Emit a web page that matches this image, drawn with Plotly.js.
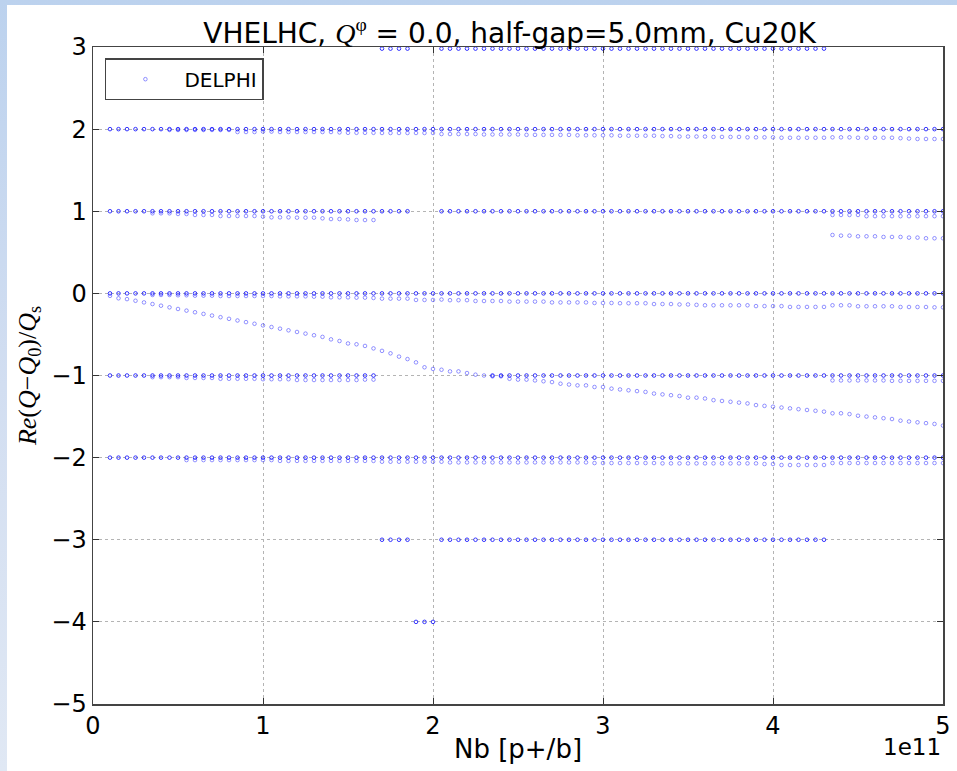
<!DOCTYPE html>
<html>
<head>
<meta charset="utf-8">
<script src="https://cdn.plot.ly/plotly-3.0.1.min.js"></script>
<style>
  html, body { margin: 0; padding: 0; width: 957px; height: 771px; overflow: hidden;
    background: linear-gradient(to bottom, #bcd2ee 0%, #d2def1 50%, #e0e8f4 100%); }
  #plot { position: absolute; left: 7px; top: 5px; width: 950px; height: 766px; background: #fff; }
</style>
</head>
<body>
<div id="plot"></div>
<script>
const _ = null;
// Nb in units of 1e11 p+/b
const nb = [
0.10,0.15,0.20,0.25,0.30,0.35,0.40,0.45,0.50,0.55,
0.60,0.65,0.70,0.75,0.80,0.85,0.90,0.95,1.00,1.05,
1.10,1.15,1.20,1.25,1.30,1.35,1.40,1.45,1.50,1.55,
1.60,1.65,1.70,1.75,1.80,1.85,1.90,1.95,2.00,2.05,
2.10,2.15,2.20,2.25,2.30,2.35,2.40,2.45,2.50,2.55,
2.60,2.65,2.70,2.75,2.80,2.85,2.90,2.95,3.00,3.05,
3.10,3.15,3.20,3.25,3.30,3.35,3.40,3.45,3.50,3.55,
3.60,3.65,3.70,3.75,3.80,3.85,3.90,3.95,4.00,4.05,
4.10,4.15,4.20,4.25,4.30,4.35,4.40,4.45,4.50,4.55,
4.60,4.65,4.70,4.75,4.80,4.85,4.90,4.95,5.00];

// Re(Q-Q0)/Qs, one array per mode branch (null = no point)
const modeP3 = [
_,_,_,_,_,_,_,_,_,_,
_,_,_,_,_,_,_,_,_,_,
_,_,_,_,_,_,_,_,_,_,
_,_,2.98,2.98,2.98,2.98,_,_,_,2.98,
2.98,2.98,2.98,2.98,2.98,2.98,2.98,2.98,2.98,2.98,
2.98,2.98,2.98,2.98,2.98,2.98,2.98,2.98,2.98,2.98,
2.98,2.98,2.98,2.98,2.98,2.98,2.98,2.98,2.98,2.98,
2.98,2.98,2.98,2.98,2.98,2.98,2.98,2.98,2.98,2.98,
2.98,2.98,2.98,2.98,2.98,_,_,_,_,_,
_,_,_,_,_,_,_,_,_];
const modeP2 = [
2,2,2,2,2,2,2,2,2,2,
2,2,2,2,2,2,2,2,2,2,
2,2,2,2,2,2,2,2,2,2,
2,2,2,2,2,2,2,2,2,2,
2,2,2,2,2,2,2,2,2,2,
2,2,2,2,2,2,2,2,2,2,
2,2,2,2,2,2,2,2,2,2,
2,2,2,2,2,2,2,2,2,2,
2,2,2,2,2,2,2,2,2,2,
2,2,2,2,2,2,2,2,2];
const modeP2a = [
_,_,_,_,_,_,_,1.99,1.99,1.99,
1.99,1.99,1.99,1.99,1.99,1.965,1.965,1.965,1.97,1.97,
1.965,1.965,1.965,1.965,1.965,1.965,1.965,1.96,1.955,1.955,
1.955,1.955,1.953,1.953,1.953,1.953,1.953,1.953,1.953,1.94,
1.94,1.94,1.94,1.94,1.935,1.935,1.935,1.935,1.935,1.93,
1.93,1.93,1.93,1.93,1.93,1.925,1.925,1.925,1.925,1.925,
1.92,1.92,1.92,1.92,1.92,1.915,1.915,1.91,1.91,1.91,
1.91,1.905,1.905,1.905,1.905,1.90,1.90,1.90,1.90,1.895,
1.895,1.895,1.895,1.895,1.895,1.90,1.90,1.90,1.895,1.895,
1.895,1.895,1.895,1.89,1.885,1.88,1.88,1.88,1.88];
const modeP1 = [
1,1,1,1,1,1,1,1,1,1,
1,1,1,1,1,1,1,1,1,1,
1,1,1,1,1,1,1,1,1,1,
1,1,1,1,1,1,_,_,_,1,
1,1,1,1,1,1,1,1,1,1,
1,1,1,1,1,1,1,1,1,1,
1,1,1,1,1,1,1,1,1,1,
1,1,1,1,1,1,1,1,1,1,
1,1,1,1,1,1,1,1,1,1,
1,1,1,1,1,1,1,1,1];
const modeP1a = [
_,_,_,_,_,0.975,0.975,0.975,0.967,0.967,
0.955,0.955,0.955,0.942,0.942,0.942,0.942,0.942,0.934,0.926,
0.926,0.926,0.922,0.922,0.922,0.914,0.905,0.905,0.901,0.893,
0.893,0.893,_,_,_,_,_,_,_,_,
_,_,_,_,_,_,_,_,_,_,
_,_,_,_,_,_,_,_,_,_,
_,_,_,_,_,_,_,_,_,_,
_,_,_,_,_,_,_,_,_,_,
_,_,_,_,_,0.955,0.955,0.955,0.955,0.94,
0.94,0.94,0.94,0.94,0.94,0.94,0.94,0.94,0.94];
const modeP1b = [
_,_,_,_,_,_,_,_,_,_,
_,_,_,_,_,_,_,_,_,_,
_,_,_,_,_,_,_,_,_,_,
_,_,_,_,_,_,_,_,_,_,
_,_,_,_,_,_,_,_,_,_,
_,_,_,_,_,_,_,_,_,_,
_,_,_,_,_,_,_,_,_,_,
_,_,_,_,_,_,_,_,_,_,
_,_,_,_,_,0.711,0.703,0.703,0.695,0.695,
0.695,0.687,0.687,0.687,0.679,0.679,0.671,0.671,0.671];
const mode0 = [
0,0,0,0,0,0,0,0,0,0,
0,0,0,0,0,0,0,0,0,0,
0,0,0,0,0,0,0,0,0,0,
0,0,0,0,0,0,0,0,0,0,
0,0,0,0,0,0,0,0,0,0,
0,0,0,0,0,0,0,0,0,0,
0,0,0,0,0,0,0,0,0,0,
0,0,0,0,0,0,0,0,0,0,
0,0,0,0,0,0,0,0,0,0,
0,0,0,0,0,0,0,0,0];
const mode0a = [
_,_,_,_,_,-0.019,-0.019,-0.019,-0.023,-0.023,
-0.028,-0.028,-0.028,-0.032,-0.032,-0.032,-0.032,-0.032,-0.032,-0.032,
-0.036,-0.036,-0.036,-0.036,-0.040,-0.040,-0.048,-0.048,-0.048,-0.052,
-0.052,-0.056,-0.064,-0.064,-0.064,-0.064,-0.08,-0.08,-0.08,-0.075,
-0.083,-0.083,-0.083,-0.093,-0.093,-0.093,-0.093,-0.10,-0.10,-0.10,
-0.10,-0.10,-0.11,-0.11,-0.11,-0.11,-0.11,-0.117,-0.117,-0.117,
-0.12,-0.12,-0.12,-0.12,-0.13,-0.13,-0.13,-0.135,-0.135,-0.14,
-0.145,-0.145,-0.145,-0.145,-0.145,-0.145,-0.155,-0.155,-0.155,-0.155,
-0.165,-0.165,-0.165,-0.165,-0.165,-0.145,-0.145,-0.145,-0.157,-0.157,
-0.157,-0.157,-0.157,-0.166,-0.166,-0.166,-0.166,-0.17,-0.17];
const modeDiag = [
-0.03,-0.06,-0.07,-0.09,-0.11,-0.13,-0.15,-0.17,-0.19,-0.21,
-0.23,-0.25,-0.27,-0.29,-0.31,-0.33,-0.35,-0.37,-0.39,-0.41,
-0.43,-0.45,-0.47,-0.49,-0.51,-0.53,-0.56,-0.58,-0.61,-0.62,
-0.64,-0.67,-0.70,-0.73,-0.77,-0.80,-0.84,-0.90,-0.92,-0.93,
-0.95,-0.95,-0.97,-0.99,-1.00,-1.01,-1.01,-1.04,-1.05,-1.05,
-1.06,-1.07,-1.08,-1.10,-1.11,-1.12,-1.12,-1.14,-1.14,-1.16,
-1.17,-1.18,-1.19,-1.20,-1.22,-1.23,-1.24,-1.25,-1.27,-1.27,
-1.28,-1.30,-1.31,-1.32,-1.33,-1.34,-1.36,-1.37,-1.38,-1.39,
-1.40,-1.41,-1.42,-1.43,-1.44,-1.46,-1.46,-1.47,-1.49,-1.50,
-1.51,-1.52,-1.53,-1.55,-1.56,-1.57,-1.58,-1.59,-1.61];
const modeM1 = [
-1,-1,-1,-1,-1,-1,-1,-1,-1,-1,
-1,-1,-1,-1,-1,-1,-1,-1,-1,-1,
-1,-1,-1,-1,-1,-1,-1,-1,-1,-1,
-1,-1,_,_,_,_,_,_,_,_,
_,_,_,_,_,-1,-1,-1,-1,-1,
-1,-1,-1,-1,-1,-1,-1,-1,-1,-1,
-1,-1,-1,-1,-1,-1,-1,-1,-1,-1,
-1,-1,-1,-1,-1,-1,-1,-1,-1,-1,
-1,-1,-1,-1,-1,-1,-1,-1,-1,-1,
-1,-1,-1,-1,-1,-1,-1,-1,-1];
const modeM1a = [
_,_,_,_,_,-1.02,-1.02,-1.02,-1.02,-1.03,
-1.03,-1.03,-1.03,-1.04,-1.04,-1.04,-1.04,-1.04,-1.045,-1.045,
-1.045,-1.045,-1.055,-1.055,-1.055,-1.055,-1.055,-1.055,-1.055,-1.055,
-1.05,-1.05,_,_,_,_,_,_,_,_,
_,_,_,_,_,_,_,_,_,_,
_,_,_,_,_,_,_,_,_,_,
_,_,_,_,_,_,_,_,_,_,
_,_,_,_,_,_,_,_,_,_,
_,_,_,_,_,-1.06,-1.06,-1.06,-1.06,-1.06,
-1.06,-1.06,-1.065,-1.065,-1.065,-1.065,-1.065,-1.065,-1.065];
const modeM2 = [
-2,-2,-2,-2,-2,-2,-2,-2,-2,-2,
-2,-2,-2,-2,-2,-2,-2,-2,-2,-2,
-2,-2,-2,-2,-2,-2,-2,-2,-2,-2,
-2,-2,-2,-2,-2,-2,-2,-2,-2,-2,
-2,-2,-2,-2,-2,-2,-2,-2,-2,-2,
-2,-2,-2,-2,-2,-2,-2,-2,-2,-2,
-2,-2,-2,-2,-2,-2,-2,-2,-2,-2,
-2,-2,-2,-2,-2,-2,-2,-2,-2,-2,
-2,-2,-2,-2,-2,-2,-2,-2,-2,-2,
-2,-2,-2,-2,-2,-2,-2,-2,-2];
const modeM2a = [
_,_,_,_,_,_,_,_,_,-2.03,
-2.03,-2.03,-2.03,-2.03,-2.03,-2.03,-2.03,-2.03,-2.03,-2.03,
-2.04,-2.04,-2.04,-2.04,-2.04,-2.04,-2.04,-2.04,-2.04,-2.04,
-2.04,-2.04,-2.05,-2.05,-2.05,-2.05,-2.05,-2.05,-2.05,-2.05,
-2.058,-2.058,-2.058,-2.058,-2.058,-2.058,-2.058,-2.058,-2.058,-2.058,
-2.058,-2.058,-2.058,-2.058,-2.058,-2.058,-2.058,-2.066,-2.066,-2.066,
-2.066,-2.066,-2.066,-2.066,-2.066,-2.07,-2.07,-2.07,-2.07,-2.07,
-2.07,-2.07,-2.07,-2.07,-2.07,-2.07,-2.07,-2.078,-2.078,-2.09,
-2.09,-2.09,-2.09,-2.09,-2.09,-2.066,-2.066,-2.066,-2.066,-2.066,
-2.066,-2.066,-2.066,-2.066,-2.066,-2.066,-2.066,-2.066,-2.066];
const modeM3 = [
_,_,_,_,_,_,_,_,_,_,
_,_,_,_,_,_,_,_,_,_,
_,_,_,_,_,_,_,_,_,_,
_,_,-3,-3,-3,-3,_,_,_,-3,
-3,-3,-3,-3,-3,-3,-3,-3,-3,-3,
-3,-3,-3,-3,-3,-3,-3,-3,-3,-3,
-3,-3,-3,-3,-3,-3,-3,-3,-3,-3,
-3,-3,-3,-3,-3,-3,-3,-3,-3,-3,
-3,-3,-3,-3,-3,_,_,_,_,_,
_,_,_,_,_,_,_,_,_];
const modeM4 = [
_,_,_,_,_,_,_,_,_,_,
_,_,_,_,_,_,_,_,_,_,
_,_,_,_,_,_,_,_,_,_,
_,_,_,_,_,_,-4,-4,-4,_,
_,_,_,_,_,_,_,_,_,_,
_,_,_,_,_,_,_,_,_,_,
_,_,_,_,_,_,_,_,_,_,
_,_,_,_,_,_,_,_,_,_,
_,_,_,_,_,_,_,_,_,_,
_,_,_,_,_,_,_,_,_];

const xTickVals = [0, 1, 2, 3, 4, 5];
const xTickText = ['0', '1', '2', '3', '4', '5'];
const yTickVals = [-5, -4, -3, -2, -1, 0, 1, 2, 3];
const yTickText = ['\u22125', '\u22124', '\u22123', '\u22122', '\u22121', '0', '1', '2', '3'];

function collect(branches) {
  const xs = [], ys = [];
  branches.forEach(b => {
    b.forEach((v, i) => { if (v !== null) { xs.push(nb[i]); ys.push(v); } });
  });
  return {xs, ys};
}

const strong = collect([modeP3, modeP2, modeP1, mode0, modeM1, modeM2, modeM3, modeM4]);
const soft = collect([modeP2a, modeP1a, modeP1b, mode0a, modeDiag, modeM1a, modeM2a]);

const traces = [
  { x: soft.xs, y: soft.ys, type: 'scatter', mode: 'markers', name: 'DELPHI',
    legendgroup: 'd', showlegend: true,
    marker: { symbol: 'circle-open', size: 3.6, color: 'rgba(60,60,255,0.55)', line: { width: 1 } } },
  { x: strong.xs, y: strong.ys, type: 'scatter', mode: 'markers', name: 'DELPHI',
    legendgroup: 'd', showlegend: false,
    marker: { symbol: 'circle-open', size: 3.6, color: 'rgba(10,10,255,0.8)', line: { width: 1 } } }
];

const axisCommon = {
  ticks: 'inside', ticklen: 6, tickwidth: 1, tickcolor: '#333',
  showline: true, linecolor: '#444', linewidth: 1.5, mirror: 'ticks',
  showgrid: true, gridcolor: '#b4b4b4', griddash: 'dot', gridwidth: 1,
  zeroline: false,
  tickfont: { family: 'DejaVu Sans', size: 24, color: '#000' }
};

const layout = {
  width: 950, height: 766,
  margin: { l: 86, r: 14, t: 42, b: 67 },
  paper_bgcolor: '#ffffff', plot_bgcolor: '#ffffff',
  font: { family: 'DejaVu Sans', color: '#000' },
  title: {
    text: 'VHELHC, <span style="font-family:\'Liberation Serif\'"><i>Q</i><sup>φ</sup></span> = 0.0, half-gap=5.0mm, Cu20K',
    font: { family: 'DejaVu Sans', size: 28, color: '#000' },
    x: 0.49, xref: 'paper', xanchor: 'center',
    y: 0.963, yref: 'container', yanchor: 'middle'
  },
  xaxis: Object.assign({}, axisCommon, {
    range: [0, 5], tickvals: xTickVals, ticktext: xTickText,
    title: { text: 'Nb [p+/b]', font: { family: 'DejaVu Sans', size: 26, color: '#000' }, standoff: 0 }
  }),
  yaxis: Object.assign({}, axisCommon, {
    range: [-5, 3], tickvals: yTickVals, ticktext: yTickText,
    title: { text: '<i>Re</i>(<i>Q</i>\u2212<i>Q</i><sub>0</sub>)/<i>Q</i><sub>s</sub>',
      font: { family: 'Liberation Serif', size: 26, color: '#000' }, standoff: 7 }
  }),
  legend: {
    x: 0.014, y: 0.983, xanchor: 'left', yanchor: 'top',
    bgcolor: '#ffffff', bordercolor: '#444', borderwidth: 1.5,
    font: { family: 'DejaVu Sans', size: 20, color: '#000' },
    itemwidth: 68
  },
  annotations: [{
    text: '1e11', xref: 'paper', yref: 'paper', x: 1, y: 0,
    xanchor: 'right', yanchor: 'top', yshift: -28, showarrow: false,
    font: { family: 'DejaVu Sans', size: 23, color: '#000' }
  }]
};

Plotly.newPlot('plot', traces, layout, { displayModeBar: false, staticPlot: true });
</script>
</body>
</html>
